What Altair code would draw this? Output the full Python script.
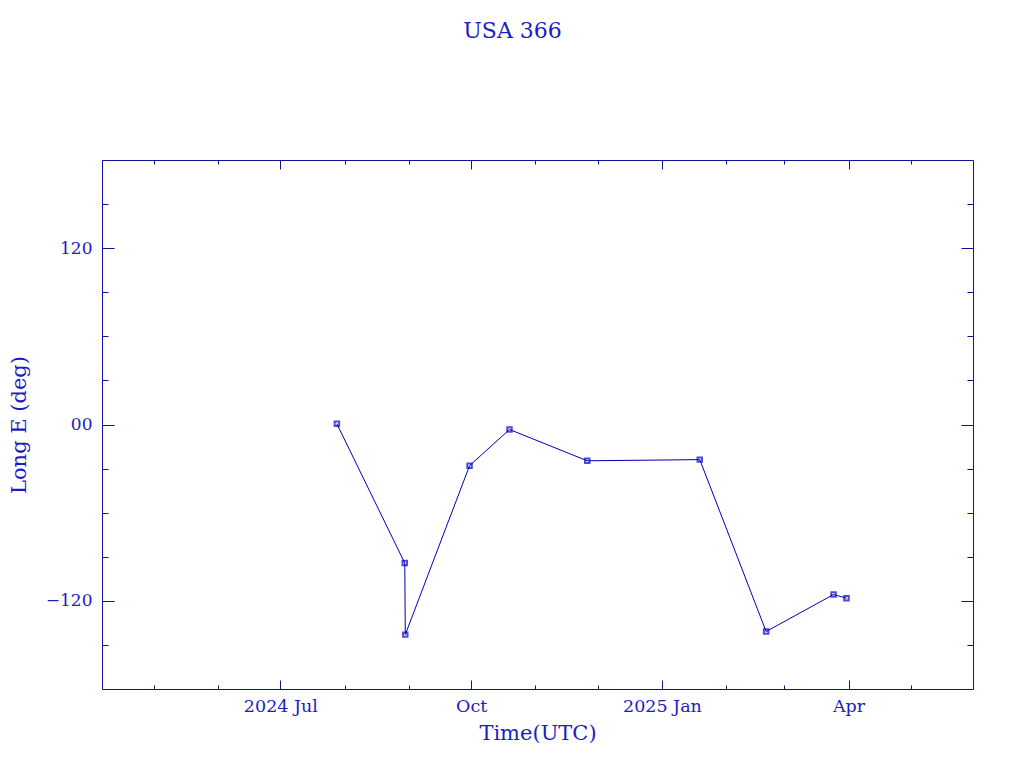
import altair as alt
import pandas as pd
from datetime import datetime, timezone

# ---- data ----
dates = [
    "2024-07-28T06:00:00Z",
    "2024-08-30T00:00:00Z",
    "2024-08-30T06:00:00Z",
    "2024-09-30T06:00:00Z",
    "2024-10-19T12:00:00Z",
    "2024-11-26T00:00:00Z",
    "2025-01-19T06:00:00Z",
    "2025-02-20T06:00:00Z",
    "2025-03-24T18:00:00Z",
    "2025-03-31T00:00:00Z",
]
lons = [0.5, -94.3, -143.0, -28.0, -3.4, -24.7, -23.9, -140.9, -115.7, -118.2]

x_domain = [(2024, 4, 6), (2025, 5, 31)]
x_major = [(2024, 7, 1), (2024, 10, 1), (2025, 1, 1), (2025, 4, 1)]
x_major_labels = ["2024 Jul", "Oct", "2025 Jan", "Apr"]
x_minor = [(2024, 5, 1), (2024, 6, 1), (2024, 7, 1), (2024, 8, 1), (2024, 9, 1),
           (2024, 10, 1), (2024, 11, 1), (2024, 12, 1), (2025, 1, 1), (2025, 2, 1),
           (2025, 3, 1), (2025, 4, 1), (2025, 5, 1)]
y_domain = [-180, 180]
y_major = [-120, 0, 120]
y_major_labels = ["\u2212120", "00", "120"]
y_minor = [-150, -120, -90, -60, -30, 0, 30, 60, 90, 120, 150]

TITLE = "USA 366"
X_TITLE = "Time(UTC)"
Y_TITLE = "Long E (deg)"

W, H = 871, 529
LINE = "#10109a"
TEXT = "#1c1cc0"
FONT = "DejaVu Serif"

df = pd.DataFrame({"date": dates, "lon": lons})


def dt(t):
    return alt.DateTime(year=t[0], month=t[1], date=t[2], utc=True)


def ms(t):
    return int(datetime(t[0], t[1], t[2], tzinfo=timezone.utc).timestamp() * 1000)


x_label_expr = "{" + ",".join(f"'{ms(t)}':'{l}'" for t, l in zip(x_major, x_major_labels)) + "}[datum.value]"
y_label_expr = "{" + ",".join(f"'{v}':'{l}'" for v, l in zip(y_major, y_major_labels)) + "}[datum.value]"

xscale = alt.Scale(type="utc", domain=[dt(x_domain[0]), dt(x_domain[1])], nice=False)
yscale = alt.Scale(domain=y_domain, nice=False, zero=False)

base = alt.Chart(df)


def tick_axis_x(orient, values, size, offset, domain=False):
    return alt.Axis(orient=orient, values=[dt(v) for v in values], tickSize=size,
                    offset=offset, labels=False, title=None, domain=domain,
                    domainColor=LINE, tickColor=LINE, grid=False, tickWidth=1)


def tick_axis_y(orient, values, size, offset, domain=False):
    return alt.Axis(orient=orient, values=values, tickSize=size,
                    offset=offset, labels=False, title=None, domain=domain,
                    domainColor=LINE, tickColor=LINE, grid=False, tickWidth=1)


line = base.mark_line(color="#0000b4", strokeWidth=1).encode(
    x=alt.X("date:T", scale=xscale,
            axis=alt.Axis(orient="bottom", values=[dt(v) for v in x_major], labelExpr=x_label_expr,
                          tickSize=0, labelPadding=8, domainColor=LINE, labelColor=TEXT,
                          labelFont=FONT, labelFontSize=17.5, title=X_TITLE, titleFont=FONT,
                          titleFontSize=21, titleFontWeight="normal", titleColor=TEXT,
                          titlePadding=8, grid=False, labelFlush=False)),
    y=alt.Y("lon:Q", scale=yscale,
            axis=alt.Axis(orient="left", values=y_major, labelExpr=y_label_expr,
                          tickSize=0, labelPadding=10, domainColor=LINE, labelColor=TEXT,
                          labelFont=FONT, labelFontSize=17, title=Y_TITLE, titleFont=FONT,
                          titleFontSize=21, titleFontWeight="normal", titleColor=TEXT,
                          titleX=-83, titleY=H / 2, titleBaseline="middle", titleAngle=270,
                          grid=False, labelFlush=False)),
)

points = base.mark_point(shape="square", filled=False, color="#0000c0", size=20, strokeWidth=2).encode(
    x=alt.X("date:T", scale=xscale, axis=None),
    y=alt.Y("lon:Q", scale=yscale, axis=None),
)

inv = dict(opacity=0)
# bottom edge ticks (top-oriented axis moved down), left edge ticks (right-oriented axis moved left)
t1 = base.mark_point(**inv).encode(
    x=alt.X("date:T", scale=xscale, axis=tick_axis_x("top", x_major, 9, -H)),
    y=alt.Y("lon:Q", scale=yscale, axis=tick_axis_y("right", y_major, 12, -W)),
)
t2 = base.mark_point(**inv).encode(
    x=alt.X("date:T", scale=xscale, axis=tick_axis_x("top", x_minor, 4, -H)),
    y=alt.Y("lon:Q", scale=yscale, axis=tick_axis_y("right", y_minor, 6, -W)),
)
# top edge ticks and right edge ticks, with the frame lines
t3 = base.mark_point(**inv).encode(
    x=alt.X("date:T", scale=xscale, axis=tick_axis_x("bottom", x_major, 9, -H, domain=True)),
    y=alt.Y("lon:Q", scale=yscale, axis=tick_axis_y("left", y_major, 12, -W, domain=True)),
)
t4 = base.mark_point(**inv).encode(
    x=alt.X("date:T", scale=xscale, axis=tick_axis_x("bottom", x_minor, 4, -H)),
    y=alt.Y("lon:Q", scale=yscale, axis=tick_axis_y("left", y_minor, 6, -W)),
)

chart = alt.layer(line, points, t1, t2, t3, t4).resolve_scale(
    x="independent", y="independent"
).properties(
    width=W, height=H,
    title=alt.TitleParams(TITLE, font=FONT, fontSize=22, fontWeight="normal", color=TEXT,
                          anchor="middle", dx=-25, offset=100, baseline="alphabetic"),
    autosize=alt.AutoSizeParams(type="none"),
    padding={"left": 94, "top": 152, "right": 30, "bottom": 60},
).configure_view(stroke=None).configure(background="white")

chart.save("out.html", embed_options={"renderer": "svg", "actions": False})
